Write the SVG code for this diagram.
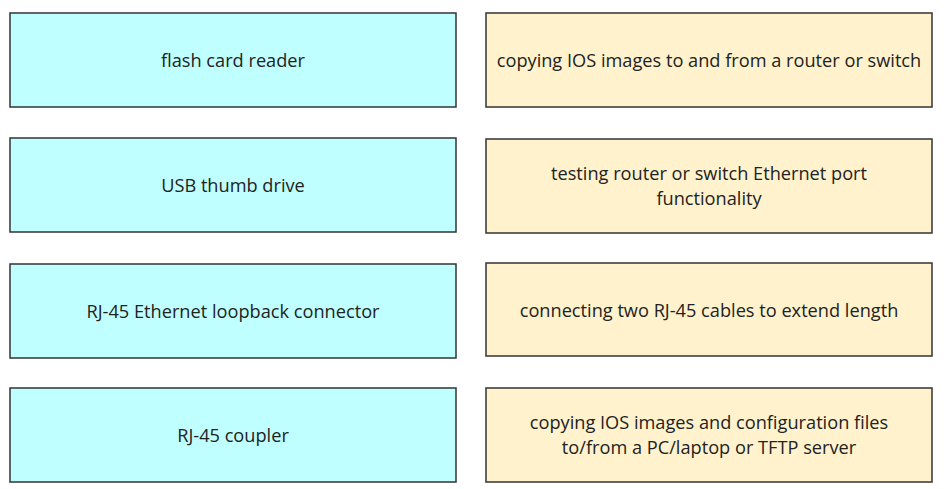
<svg xmlns="http://www.w3.org/2000/svg" width="950" height="489" viewBox="0 0 950 489">
<style>
.l{fill:#c0ffff;stroke:#333;stroke-width:1.5}
.r{fill:#fff2cc;stroke:#333;stroke-width:1.5}
text{font-family:"Open Sans","Liberation Sans",sans-serif;font-size:18.2px;fill:#222;text-anchor:middle}
</style>
<rect width="950" height="489" fill="#fff"/>
<g id="n1"><rect class="l" x="10" y="13" width="446" height="94"/><text x="233" y="67">flash card reader</text></g>
<g id="n2"><rect class="l" x="10" y="138" width="446" height="94"/><text x="233" y="192">USB thumb drive</text></g>
<g id="n3"><rect class="l" x="10" y="264" width="446" height="94"/><text x="233" y="318">RJ-45 Ethernet loopback connector</text></g>
<g id="n4"><rect class="l" x="10" y="388" width="446" height="94"/><text x="233" y="442">RJ-45 coupler</text></g>
<g id="m1"><rect class="r" x="486" y="13" width="446" height="94"/><text x="709" y="67">copying IOS images to and from a router or switch</text></g>
<g id="m2"><rect class="r" x="486" y="139" width="446" height="94"/><text x="709" y="180">testing router or switch Ethernet port</text><text x="709" y="205">functionality</text></g>
<g id="m3"><rect class="r" x="486" y="263" width="446" height="93"/><text x="709" y="317">connecting two RJ-45 cables to extend length</text></g>
<g id="m4"><rect class="r" x="486" y="388" width="446" height="94"/><text x="709" y="429">copying IOS images and configuration files</text><text x="709" y="454">to/from a PC/laptop or TFTP server</text></g>
<g id="connectors"/>
</svg>
